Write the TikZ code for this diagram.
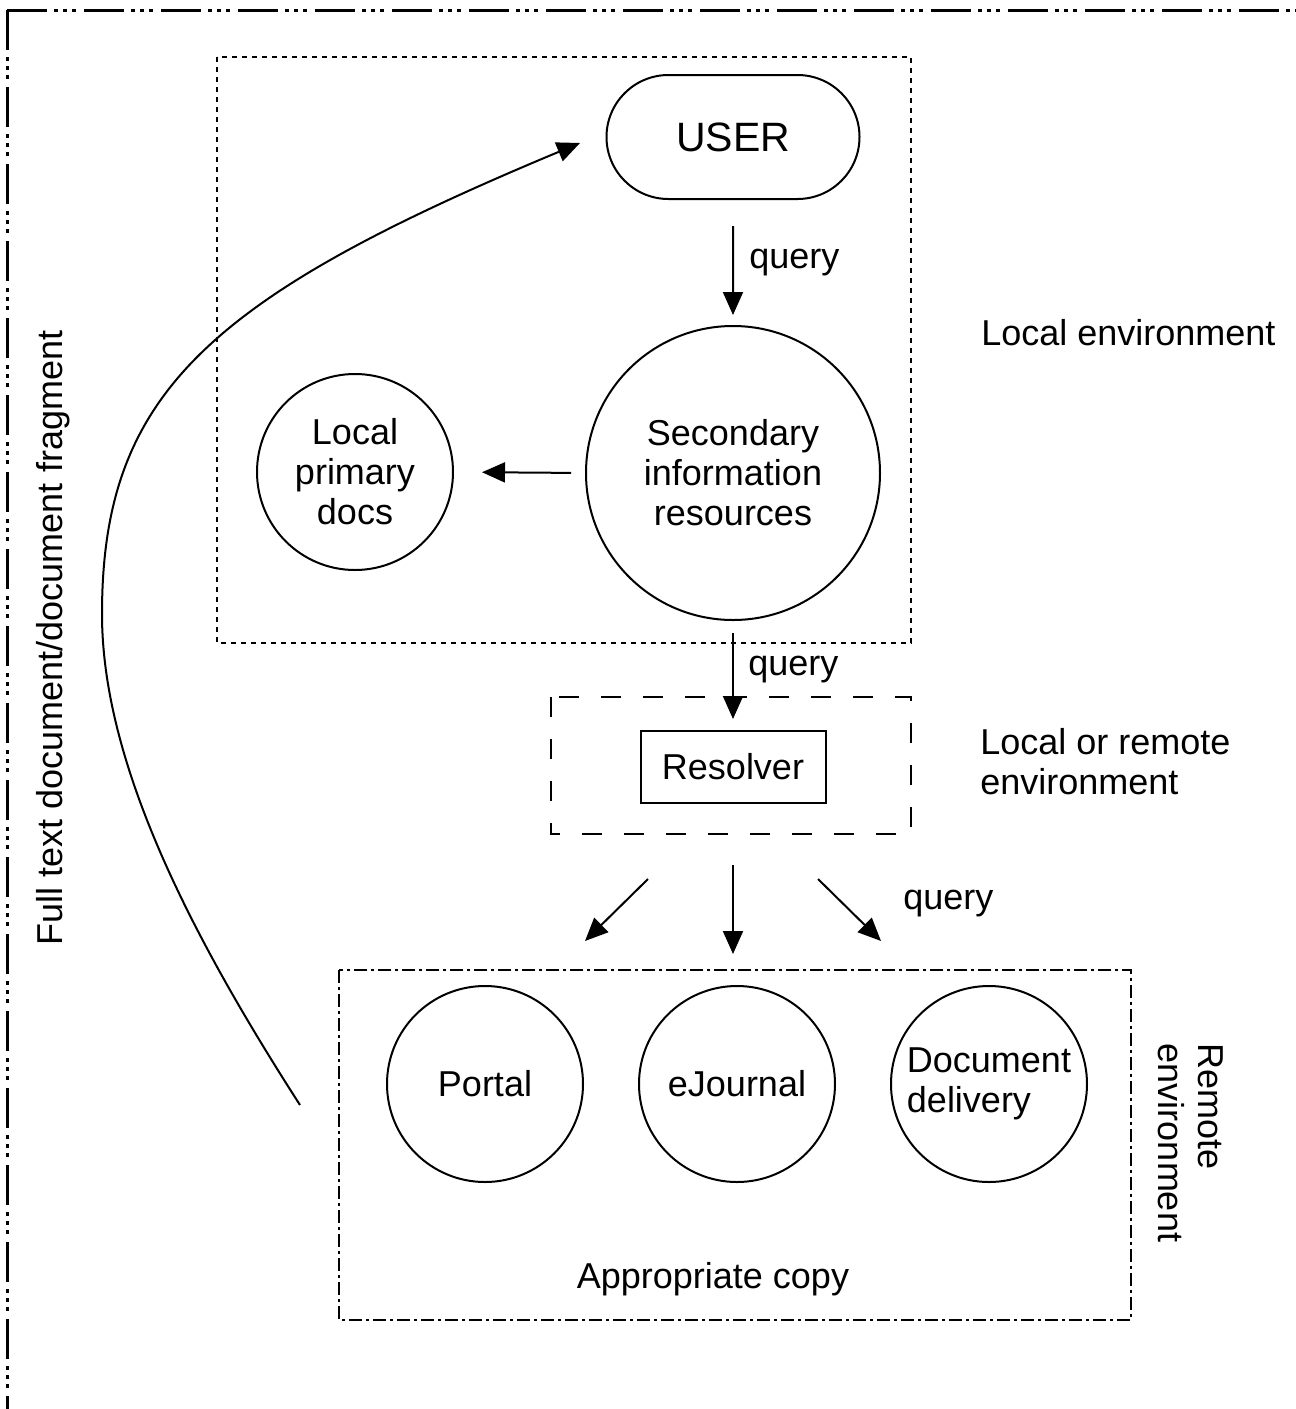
\documentclass[tikz,border=0pt]{standalone}
\usepackage{fontspec}
\setmainfont{Liberation Sans}
\usetikzlibrary{arrows.meta,shapes.misc,shapes.geometric}
\begin{document}
\begin{tikzpicture}[x=0.5pt,y=-0.5pt,
  txt/.style={font=\fontsize{18}{20}\selectfont},
  lbl/.style={txt, inner sep=0pt},
  circ/.style={txt, circle, draw, line width=1pt, inner sep=0pt, align=center},
  arr/.style={-{Triangle[length=11.5pt,width=10pt]}, line width=1pt},
  frameline/.style={line width=1.5pt, dash pattern=on 20pt off 3.5pt on 2pt off 2.5pt on 2pt off 2.5pt on 2pt off 4pt},
  localbox/.style={line width=1.1pt, dash pattern=on 2.5pt off 2.5pt},
  midbox/.style={line width=1pt, dash pattern=on 10pt off 11pt},
  remotebox/.style={line width=1.1pt, dash pattern=on 6.5pt off 2pt on 1.5pt off 2pt}
]
\useasboundingbox (0,0) rectangle (1296,1409);

% outer frame
\coordinate (fc) at (7,10);
\coordinate (fr) at (1296,10);
\coordinate (fb) at (7,1409);
\draw[frameline] (fc) -- (fr);
\draw[frameline] (fc) -- (fb);

% environment boxes
\draw[localbox] (217,57) rectangle (911,643);
\draw[midbox] (551,697) rectangle (911,834);
\draw[remotebox] (339,970) rectangle (1131,1320);

% nodes
\node[rounded rectangle, draw, line width=1pt, minimum width=126.5pt, minimum height=62pt, inner sep=0pt,
      font=\fontsize{20.5}{24}\selectfont] (user) at (733,137) {USER};
\node[circ, minimum size=147pt] (sec) at (733,473) {Secondary\\information\\resources};
\node[circ, minimum size=98pt] (loc) at (355,472) {Local\\primary\\docs};
\node[txt, draw, line width=1pt, rectangle, minimum width=92.5pt, minimum height=36pt, inner sep=0pt] (res) at (733,767) {Resolver};
\node[circ, minimum size=98pt] (portal) at (485,1084) {Portal};
\node[circ, minimum size=98pt] (ej) at (737,1084) {eJournal};
\node[circ, minimum size=98pt, align=left] (dd) at (989,1084) {Document\\delivery};

% labels
\node[lbl, anchor=base west] (q1) at (749,268) {query};
\node[lbl, anchor=base west] (q2) at (748,675) {query};
\node[lbl, anchor=base west] (q3) at (903,909) {query};
\node[lbl, anchor=base west] (le) at (981,345) {Local environment};
\node[lbl, anchor=west, align=left] (lre) at (980,762) {Local or remote\\environment};
\node[lbl, anchor=base] (ac) at (713,1288) {Appropriate copy};
\node[lbl, rotate=-90, align=left] (re) at (1191,1143) {Remote\\environment};
\node[lbl, rotate=90, anchor=base] (ft) at (62,638) {Full text document/document fragment};

% arrows
\draw[arr, shorten <=13pt, shorten >=5pt] (user) -- (sec);
\draw[arr, shorten <=7pt, shorten >=14pt] (sec.west) -- (loc.east);
\draw[arr, shorten <=6pt, shorten >=5.5pt] (sec) -- (res);

\coordinate (a1s) at (648,879);
\coordinate (a1e) at (585,941);
\coordinate (a2s) at (733,865);
\coordinate (a2e) at (733,954);
\coordinate (a3s) at (818,879);
\coordinate (a3e) at (881,941);
\draw[arr] (a1s) -- (a1e);
\draw[arr] (a2s) -- (a2e);
\draw[arr] (a3s) -- (a3e);

% return curve
\coordinate (cs) at (300,1105);
\coordinate (cm) at (102,614);
\coordinate (ce) at (580,143);
\draw[arr] (cs) .. controls (192,937) and (102,764) .. (cm) .. controls (102,394) and (208,298) .. (ce);
\end{tikzpicture}
\end{document}
